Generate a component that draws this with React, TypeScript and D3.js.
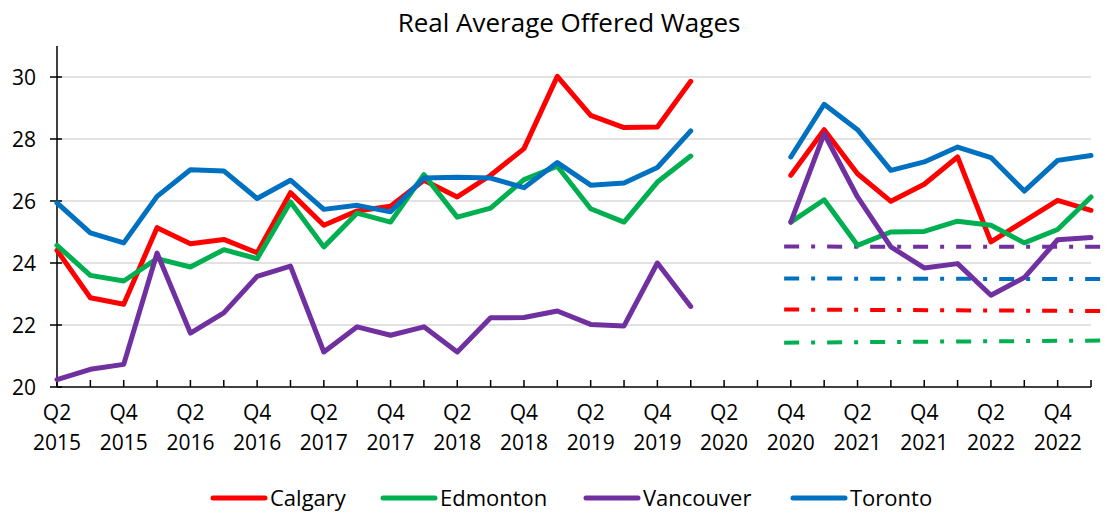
import React, { useEffect, useRef } from "react";
import * as d3 from "d3";

// quarters Q2 2015 .. Q1 2023, labels on every other quarter
const quarters = [
  "Q2 2015", "Q3 2015", "Q4 2015", "Q1 2016", "Q2 2016", "Q3 2016", "Q4 2016", "Q1 2017",
  "Q2 2017", "Q3 2017", "Q4 2017", "Q1 2018", "Q2 2018", "Q3 2018", "Q4 2018", "Q1 2019",
  "Q2 2019", "Q3 2019", "Q4 2019", "Q1 2020", "Q2 2020", "Q3 2020", "Q4 2020", "Q1 2021",
  "Q2 2021", "Q3 2021", "Q4 2021", "Q1 2022", "Q2 2022", "Q3 2022", "Q4 2022", "Q1 2023",
];

const calgary = [
  24.41, 22.88, 22.67, 25.14, 24.62, 24.76, 24.33, 26.27, 25.22, 25.68,
  25.83, 26.67, 26.13, 26.83, 27.69, 30.02, 28.76, 28.37, 28.39, 29.86,
  null, null,
  26.83, 28.3, 26.88, 25.99, 26.54, 27.42, 24.68, 25.35, 26.02, 25.7,
];
const edmonton = [
  24.57, 23.6, 23.42, 24.14, 23.87, 24.43, 24.14, 25.97, 24.52, 25.61,
  25.32, 26.85, 25.48, 25.77, 26.69, 27.12, 25.75, 25.32, 26.61, 27.45,
  null, null,
  25.32, 26.04, 24.57, 25.0, 25.02, 25.35, 25.22, 24.65, 25.08, 26.13,
];
const vancouver = [
  20.24, 20.57, 20.73, 24.32, 21.74, 22.39, 23.57, 23.9, 21.13, 21.94,
  21.67, 21.94, 21.13, 22.23, 22.24, 22.45, 22.02, 21.97, 24.0, 22.6,
  null, null,
  25.32, 28.17, 26.13, 24.52, 23.84, 23.98, 22.96, 23.53, 24.75, 24.82,
];
const toronto = [
  25.94, 24.97, 24.65, 26.15, 27.01, 26.97, 26.08, 26.67, 25.73, 25.86,
  25.65, 26.74, 26.77, 26.74, 26.43, 27.24, 26.51, 26.58, 27.08, 28.26,
  null, null,
  27.42, 29.12, 28.3, 26.99, 27.26, 27.74, 27.4, 26.32, 27.31, 27.47,
];

// pre-pandemic averages drawn as dash-dot reference lines (start / end level)
const avgStart = [22.5, 21.43, 24.53, 23.5];
const avgEnd = [22.45, 21.5, 24.52, 23.48];
const avgFrom = 21.8;
const avgTo = 31.5;

const cities = ["Calgary", "Edmonton", "Vancouver", "Toronto"];
const colors = ["#ff0000", "#00b050", "#7030a0", "#0070c0"];
const seriesList = [calgary, edmonton, vancouver, toronto];
const yTicks = [20, 22, 24, 26, 28, 30];

const FONT = "'Open Sans', sans-serif";

export default function App() {
  const ref = useRef<SVGSVGElement>(null);

  useEffect(() => {
    const W = 1107, H = 514;
    const svg = d3.select(ref.current);
    svg.selectAll("*").remove();

    const x = d3.scaleLinear().domain([0, quarters.length - 1]).range([57, 1091]);
    const y = d3.scaleLinear().domain([20, 31]).range([387, 46]);

    svg.append("text").attr("x", 569).attr("y", 32).attr("text-anchor", "middle")
      .attr("font-family", FONT).attr("font-size", 26).attr("fill", "#000")
      .text("Real Average Offered Wages");

    // gridlines
    svg.append("g").selectAll("line").data(yTicks.filter(t => t > 20)).join("line")
      .attr("x1", x(0)).attr("x2", x(quarters.length - 1))
      .attr("y1", d => y(d)).attr("y2", d => y(d))
      .attr("stroke", "#d9d9d9").attr("stroke-width", 1.5);

    // y axis
    const ya = svg.append("g");
    ya.append("line").attr("x1", x(0)).attr("x2", x(0)).attr("y1", y(31)).attr("y2", y(20))
      .attr("stroke", "#000").attr("stroke-width", 1.5);
    ya.selectAll(".yt").data(yTicks).join("line").attr("class", "yt")
      .attr("x1", x(0) - 7).attr("x2", x(0) + 5).attr("y1", d => y(d)).attr("y2", d => y(d))
      .attr("stroke", "#000").attr("stroke-width", 1.5);
    ya.selectAll("text").data(yTicks).join("text")
      .attr("x", 36).attr("y", d => y(d)).attr("dy", "0.36em").attr("text-anchor", "end")
      .attr("font-family", FONT).attr("font-size", 21).attr("fill", "#000")
      .text(d => d);

    // x axis
    const xa = svg.append("g");
    xa.append("line").attr("x1", x(0)).attr("x2", x(quarters.length - 1)).attr("y1", y(20)).attr("y2", y(20))
      .attr("stroke", "#000").attr("stroke-width", 1.5);
    xa.selectAll(".xt").data(quarters.map((_, i) => i)).join("line").attr("class", "xt")
      .attr("x1", d => x(d)).attr("x2", d => x(d)).attr("y1", y(20) - 7).attr("y2", y(20))
      .attr("stroke", "#000").attr("stroke-width", 1.5);
    const labelled = quarters.map((q, i) => ({ q, i })).filter(d => d.i % 2 === 0);
    const lbl = xa.selectAll("text").data(labelled).join("text")
      .attr("text-anchor", "middle").attr("font-family", FONT).attr("font-size", 21).attr("fill", "#000");
    lbl.append("tspan").attr("x", d => x(d.i)).attr("y", 420).text(d => d.q.split(" ")[0]);
    lbl.append("tspan").attr("x", d => x(d.i)).attr("y", 450).text(d => d.q.split(" ")[1]);

    // reference lines
    svg.append("g").selectAll("line").data(cities).join("line")
      .attr("x1", x(avgFrom)).attr("x2", x(avgTo))
      .attr("y1", (_, i) => y(avgStart[i])).attr("y2", (_, i) => y(avgEnd[i]))
      .attr("stroke", (_, i) => colors[i]).attr("stroke-width", 4)
      .attr("stroke-dasharray", "15 12 4 12");

    // series
    const line = d3.line<number | null>()
      .defined(d => d != null)
      .x((_, i) => x(i)).y(d => y(d as number));
    svg.append("g").selectAll("path").data(seriesList).join("path")
      .attr("d", d => line(d))
      .attr("fill", "none").attr("stroke", (_, i) => colors[i]).attr("stroke-width", 5)
      .attr("stroke-linejoin", "round").attr("stroke-linecap", "round");

    // legend
    const legendX = [213, 383, 586, 793];
    const lg = svg.append("g").selectAll("g").data(cities).join("g")
      .attr("transform", (_, i) => `translate(${legendX[i]}, 498)`);
    lg.append("line").attr("x1", 0).attr("x2", 52).attr("y1", 0).attr("y2", 0)
      .attr("stroke", (_, i) => colors[i]).attr("stroke-width", 5).attr("stroke-linecap", "round");
    lg.append("text").attr("x", 57).attr("y", 0).attr("dy", "0.36em")
      .attr("font-family", FONT).attr("font-size", 22).attr("fill", "#000")
      .text(d => d);

    svg.attr("width", W).attr("height", H);
  }, []);

  return (
    <div style={{ position: "absolute", left: 0, top: 0, background: "#fff" }}>
      <svg ref={ref} width={1107} height={514} style={{ display: "block" }} />
    </div>
  );
}
